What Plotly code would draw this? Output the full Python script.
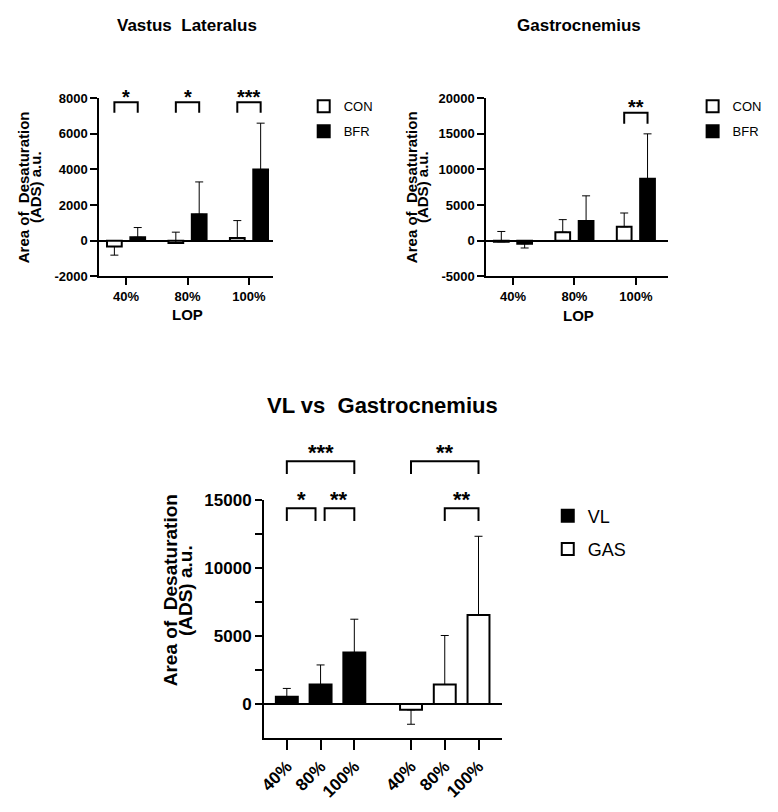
import plotly.graph_objs as go

# Valeurs : moyenne, erreur vers le haut, erreur vers le bas
lop = ["40%", "80%", "100%"]

vl_con = [-330, -130, 150]
vl_con_haut = [0, 610, 980]
vl_con_bas = [480, 0, 0]
vl_bfr = [190, 1480, 4000]
vl_bfr_haut = [550, 1820, 2600]
vl_bfr_bas = [0, 0, 0]

gas_con = [-150, 1200, 1950]
gas_con_haut = [1450, 1760, 1940]
gas_con_bas = [0, 0, 0]
gas_bfr = [-420, 2780, 8700]
gas_bfr_haut = [0, 3520, 6300]
gas_bfr_bas = [600, 0, 0]

comp_vl = [530, 1440, 3800]
comp_vl_haut = [620, 1440, 2450]
comp_vl_bas = [0, 0, 0]
comp_gas = [-430, 1440, 6560]
comp_gas_haut = [0, 3610, 5800]
comp_gas_bas = [1060, 0, 0]

ticks_vl = [-2000, 0, 2000, 4000, 6000, 8000]
ticks_gas = [-5000, 0, 5000, 10000, 15000, 20000]
ticks_comp = [0, 5000, 10000, 15000]

# La page html garde la marge de 8 px du navigateur : la figure est réduite d'autant
MARGE = 8
W, H = 778 - 2 * MARGE, 812 - 2 * MARGE
POLICE = "Liberation Sans, Arial, sans-serif"


def px_x(v):
    return (v - MARGE) / W


def px_y(v):
    return 1 - (v - MARGE) / H


pos = list(range(len(lop)))
ecart_groupes = 3.68
pos_gas = [p + ecart_groupes for p in pos]

fig = go.Figure()


def barres(x, y, haut, bas, nom, plein, xa, ya, leg, largeur, centre):
    fig.add_trace(go.Bar(
        x=x, y=y, name=nom, width=largeur, offset=centre - largeur / 2,
        marker=dict(color="black" if plein else "white",
                    line=dict(color="black", width=2)),
        error_y=dict(type="data", symmetric=False, array=haut, arrayminus=bas,
                     color="black", thickness=1, width=4),
        xaxis=xa, yaxis=ya, legend=leg, legendgroup=nom + leg,
    ))


# Vastus lateralus
barres(pos, vl_con, vl_con_haut, vl_con_bas, "CON", False, "x", "y", "legend", 0.24, -0.19)
barres(pos, vl_bfr, vl_bfr_haut, vl_bfr_bas, "BFR", True, "x", "y", "legend", 0.24, 0.19)
# Gastrocnemius
barres(pos, gas_con, gas_con_haut, gas_con_bas, "CON", False, "x2", "y2", "legend2", 0.24, -0.19)
barres(pos, gas_bfr, gas_bfr_haut, gas_bfr_bas, "BFR", True, "x2", "y2", "legend2", 0.24, 0.19)
# VL vs Gastrocnemius
barres(pos, comp_vl, comp_vl_haut, comp_vl_bas, "VL", True, "x3", "y3", "legend3", 0.65, 0)
barres(pos_gas, comp_gas, comp_gas_haut, comp_gas_bas, "GAS", False, "x3", "y3", "legend3", 0.65, 0)


def crochet(xa, ya, x0, x1, haut, pied, texte, y_etoile, taille=20):
    yd = ya + " domain"
    fig.add_shape(type="path", xref=xa, yref=yd,
                  path=f"M{x0},{pied} L{x0},{haut} L{x1},{haut} L{x1},{pied}",
                  line=dict(color="black", width=2))
    fig.add_annotation(x=(x0 + x1) / 2, y=y_etoile, xref=xa, yref=yd, text=texte,
                       showarrow=False, yanchor="middle", yshift=-taille * 0.25,
                       font=dict(family=POLICE, size=taille, color="black", weight="bold"))


for i, s in zip(pos, ["*", "*", "***"]):
    crochet("x", "y", i - 0.19, i + 0.19, 0.978, 0.918, s, 1.033)
crochet("x2", "y2", 2 - 0.19, 2 + 0.19, 0.918, 0.857, "**", 0.978)

crochet("x3", "y3", pos[0], pos[2], 1.165, 1.111, "***", 1.227, 22)
crochet("x3", "y3", pos[0], pos[1] - 0.15, 0.967, 0.914, "*", 1.029, 22)
crochet("x3", "y3", pos[1] + 0.12, pos[2], 0.967, 0.914, "**", 1.029, 22)
crochet("x3", "y3", pos_gas[0], pos_gas[2], 1.165, 1.111, "**", 1.227, 22)
crochet("x3", "y3", pos_gas[1], pos_gas[2], 0.967, 0.914, "**", 1.029, 22)

# Mise en forme des axes
tick_font = dict(family=POLICE, size=13, color="black", weight="bold")
axe_x = dict(showline=True, linewidth=2, linecolor="black", ticks="outside",
             ticklen=7, tickwidth=2, tickcolor="black", showgrid=False,
             zeroline=False, tickfont=tick_font)
axe_y = dict(showline=True, linewidth=2, linecolor="black", ticks="outside",
             ticklen=7, tickwidth=2, tickcolor="black", showgrid=False,
             zeroline=True, zerolinewidth=2, zerolinecolor="black", tickfont=tick_font)

fig.update_layout(
    width=W, height=H, autosize=False, margin=dict(l=0, r=0, t=0, b=0),
    paper_bgcolor="white", plot_bgcolor="white", barmode="overlay",
    font=dict(family=POLICE, color="black"),
    xaxis=dict(axe_x, domain=[px_x(94), px_x(269)], range=[-0.435, 2.39],
               tickvals=pos, ticktext=lop, anchor="y"),
    yaxis=dict(axe_y, domain=[px_y(273), px_y(91)], range=[-2000, 8000],
               tickvals=ticks_vl, ticktext=[str(t) for t in ticks_vl], anchor="x"),
    xaxis2=dict(axe_x, domain=[px_x(484), px_x(667)], range=[-0.435, 2.52],
                tickvals=pos, ticktext=lop, anchor="y2"),
    yaxis2=dict(axe_y, domain=[px_y(273), px_y(91)], range=[-5000, 20000],
                tickvals=ticks_gas, ticktext=[str(t) for t in ticks_gas], anchor="x2"),
    xaxis3=dict(axe_x, domain=[px_x(260), px_x(500)], range=[-0.676, 6.38],
                tickvals=pos + pos_gas, ticktext=lop + lop, anchor="y3",
                ticklen=10, tickangle=-45,
                tickfont=dict(tick_font, size=17)),
    yaxis3=dict(axe_y, domain=[px_y(744.7), px_y(502)], range=[-2500, 15000],
                tickvals=ticks_comp, ticktext=[str(t) for t in ticks_comp], anchor="x3",
                tickfont=dict(tick_font, size=17),
                minor=dict(tickvals=[2500, 7500, 12500], ticks="outside",
                           ticklen=7, tickwidth=2, tickcolor="black", showgrid=False)),
    legend=dict(x=px_x(300), y=px_y(84), xanchor="left", yanchor="top",
                font=dict(size=13), tracegroupgap=5, bgcolor="rgba(0,0,0,0)"),
    legend2=dict(x=px_x(692), y=px_y(84), xanchor="left", yanchor="top",
                 font=dict(size=13), tracegroupgap=5, bgcolor="rgba(0,0,0,0)"),
    legend3=dict(x=px_x(546), y=px_y(499), xanchor="left", yanchor="top",
                 font=dict(size=18), tracegroupgap=7, bgcolor="rgba(0,0,0,0)"),
)

# Titres et libellés
textes = [
    ("Vastus\u00a0 Lateralus", 182, 17, 17, 0),
    ("Gastrocnemius", 577, 17, 17, 0),
    ("VL vs\u00a0 Gastrocnemius", 379, 405, 22, 0),
    ("LOP", 183, 312, 15, 0),
    ("LOP", 577, 313, 15, 0),
    ("Area of\u00a0 Desaturation", 17, 182, 15, -90),
    ("(ADS) a.u.", 29, 182, 15, -90),
    ("Area of\u00a0 Desaturation", 408, 182, 15, -90),
    ("(ADS) a.u.", 420, 182, 15, -90),
    ("Area of\u00a0 Desaturation", 166, 594, 19, -90),
    ("(ADS) a.u.", 181, 594, 19, -90),
]
for texte, x, y, taille, angle in textes:
    fig.add_annotation(text=texte, x=px_x(x), y=px_y(y), xref="paper", yref="paper",
                       showarrow=False, textangle=angle, xanchor="center", yanchor="middle",
                       font=dict(family=POLICE, size=taille, color="black", weight="bold"))

fig.write_html("out.html")
